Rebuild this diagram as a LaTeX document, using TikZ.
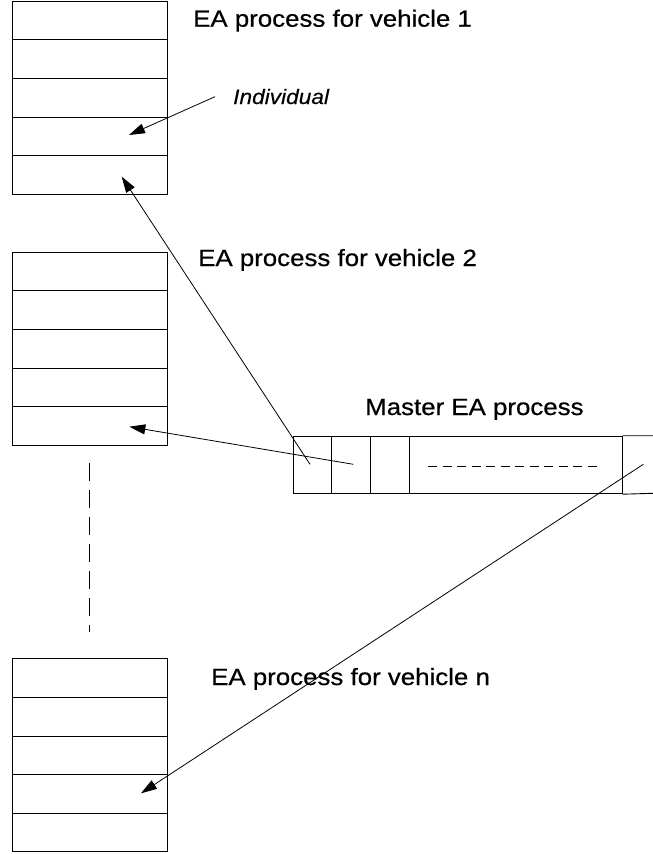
\documentclass[tikz,border=0pt]{standalone}
\usepackage{fontspec}
\newfontfamily\lab[FakeStretch=1.1,FakeBold=0.6]{Liberation Sans}
\newfontfamily\labi[FakeStretch=1.08,FakeBold=0.3]{Liberation Sans Italic}
\usetikzlibrary{arrows.meta}
\begin{document}
\begin{tikzpicture}[x=1pt,y=-1pt,
  cell/.style={draw,line width=1pt,inner sep=0pt,anchor=north west,minimum width=155pt,minimum height=38.6pt},
  mcell/.style={draw,line width=0.9pt,inner sep=0pt,anchor=north west,minimum height=57.6pt},
  title/.style={anchor=base west,inner sep=0pt,font=\lab\fontsize{23.5}{28}\selectfont},
  conn/.style={line width=0.8pt,-{Triangle[length=16pt,width=10pt]}},
  vdash/.style={line width=1.3pt,dash pattern=on 18pt off 9pt},
  hdash/.style={line width=1pt,dash pattern=on 9pt off 5.5pt}]
\useasboundingbox (0,0) rectangle (653,854);
% stack 1
\foreach \i in {0,...,4}{\node[cell] (a\i) at (12,0.7+38.6*\i) {};}
% stack 2
\foreach \i in {0,...,4}{\node[cell] (b\i) at (12,251.7+38.6*\i) {};}
% stack n
\foreach \i in {0,...,4}{\node[cell] (c\i) at (12,658.3+38.6*\i) {};}
% vertical dashed
\coordinate (v1) at (89.3,463);
\coordinate (v2) at (89.3,632);
\draw[vdash] (v1) -- (v2);
% master
\node[mcell,minimum width=38.6pt] (m1) at (292.7,435.7) {};
\node[mcell,minimum width=38.7pt] (m2) at (331.3,435.7) {};
\node[mcell,minimum width=38.7pt] (m3) at (370,435.7) {};
\node[mcell,minimum width=213pt] (m4) at (408.7,435.7) {};
\coordinate (m5a) at (653,435.7);
\coordinate (m5b) at (653,493.3);
\draw[line width=0.9pt] (m4.north east) -- (m5a) (m4.south east) -- (m5b);
\coordinate (hd1) at (428,466.5);
\coordinate (hd2) at (599,466.5);
\draw[hdash] (hd1) -- (hd2);
% labels
\node[title] (t1) at (193,26.7) {EA process for vehicle 1};
\node[title] (t2) at (198,266) {EA process for vehicle 2};
\node[title] (tn) at (211,685) {EA process for vehicle n};
\node[title] (tm) at (365,415) {Master EA process};
\node[anchor=base west,inner sep=0pt,font=\labi\fontsize{21}{25}\selectfont] (ind) at (233,104) {Individual};
% connectors
\coordinate (indS) at (215,96.7);
\coordinate (indT) at (129,135);
\coordinate (p1) at (310,464.3);
\coordinate (q1) at (121.7,176.7);
\coordinate (p2) at (353.3,464.3);
\coordinate (q2) at (129.3,426.7);
\coordinate (pn) at (643.3,464.3);
\coordinate (qn) at (141,793.3);
\draw[conn] (indS) -- (indT);
\draw[conn] (p1) -- (q1);
\draw[conn] (p2) -- (q2);
\draw[conn] (pn) -- (qn);
\end{tikzpicture}
\end{document}
